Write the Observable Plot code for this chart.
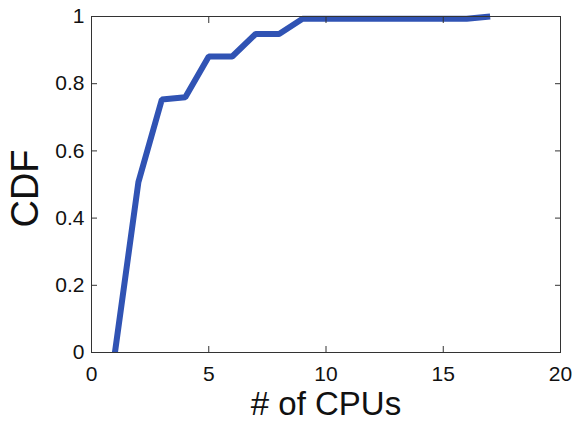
<!DOCTYPE html>
<html><head><meta charset="utf-8">
<script src="https://cdn.jsdelivr.net/npm/d3@7"></script>
<script src="https://cdn.jsdelivr.net/npm/@observablehq/plot@0.6"></script>
<style>body{margin:0;background:#fff}</style>
</head><body><div id="chart"></div>
<script>
const cpus = [1, 2, 3, 4, 5, 6, 7, 8, 9, 10, 11, 12, 13, 14, 15, 16, 17];
const cdf = [0, 0.507, 0.753, 0.76, 0.881, 0.881, 0.948, 0.948, 0.993, 0.993, 0.993, 0.993, 0.993, 0.993, 0.993, 0.993, 1.0];
const xTicks = [0, 5, 10, 15, 20];
const yTicks = [0, 0.2, 0.4, 0.6, 0.8, 1];
const xLabel = "# of CPUs";
const yLabel = "CDF";
const data = cpus.map((c, i) => ({x: c, y: cdf[i]}));
const font = "Liberation Sans, Arial, sans-serif";
const plot = Plot.plot({
  width: 575, height: 422,
  marginLeft: 91, marginRight: 15, marginTop: 16, marginBottom: 70,
  style: {fontFamily: font, background: "#fff", color: "#222"},
  x: {domain: [0, 20]},
  y: {domain: [0, 1]},
  marks: [
    Plot.line(data, {x: "x", y: "y", stroke: "#3053b4", strokeWidth: 6, strokeLinejoin: "miter", strokeLinecap: "butt"}),
    Plot.frame({stroke: "#333", strokeWidth: 1}),
    Plot.axisX(xTicks, {anchor: "bottom", tickSize: -6, text: null, label: null, stroke: "#333"}),
    Plot.axisX(xTicks, {anchor: "top", tickSize: -6, text: null, label: null, stroke: "#333"}),
    Plot.axisY(yTicks, {anchor: "left", tickSize: -6, text: null, label: null, stroke: "#333"}),
    Plot.axisY(yTicks, {anchor: "right", tickSize: -6, text: null, label: null, stroke: "#333"}),
    Plot.axisX(xTicks, {anchor: "bottom", tickSize: 0, tickPadding: 14, fontSize: 21, label: null, fill: "#111"}),
    Plot.axisY(yTicks, {anchor: "left", tickSize: 0, tickPadding: 7, fontSize: 21, label: null, fill: "#111", tickFormat: d => String(d)}),
    Plot.text([xLabel], {frameAnchor: "bottom", dy: 62, fontSize: 33, fill: "#111"}),
    Plot.text([yLabel], {frameAnchor: "left", textAnchor: "middle", dx: -66, dy: 4, rotate: -90, fontSize: 38, fill: "#111"})
  ]
});
document.getElementById("chart").append(plot);
</script>
</body></html>
